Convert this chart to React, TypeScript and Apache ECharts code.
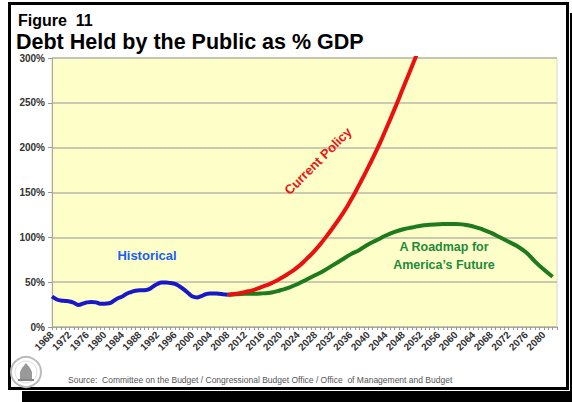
import React, { useEffect, useRef } from "react";
import * as echarts from "echarts";

const histYears = [1968,1969,1970,1971,1972,1973,1974,1975,1976,1977,1978,1979,1980,1981,1982,1983,1984,1985,1986,1987,1988,1989,1990,1991,1992,1993,1994,1995,1996,1997,1998,1999,2000,2001,2002,2003,2004,2005,2006,2007,2008];
const histValues = [34,31,29.5,29,28.5,27,24.5,26,27.5,28,27.5,26,26,26.5,29,32,34,37,39,40.5,41,41,42,45,48,49.5,49.5,49,48,45.5,42,38,34,33,34.5,36.5,37.5,37.5,37,36.5,36];

const policyYears = [2008,2010,2012,2014,2016,2018,2020,2022,2024,2026,2028,2030,2032,2034,2036,2038,2040,2042,2044,2046,2048,2050,2052];
const policyValues = [36,37,39,41.5,45,49,54,60,67,76,86,98,111,125,141,159,178,198,220,243,267,291,316];

const roadmapYears = [2008,2010,2012,2014,2016,2018,2020,2022,2024,2026,2028,2030,2032,2034,2036,2038,2040,2042,2044,2046,2048,2050,2052,2054,2056,2058,2060,2062,2064,2066,2068,2070,2072,2074,2076,2078,2080,2082];
const roadmapValues = [36,36.5,37,37,37.5,38.5,41,44,48,53,58,63,69,75,81,86,92,97,102,106,109,111,113,114,114.5,115,115,114,112,109,105,100,95,90,83,73,64,56];

const FONT = "'Liberation Sans', Arial, sans-serif";

function pairs(xs: number[], ys: number[]) {
  return xs.map((x, i) => [x, ys[i]]);
}

export default function App() {
  const ref = useRef<HTMLDivElement>(null);
  useEffect(() => {
    if (!ref.current) return;
    const chart = echarts.init(ref.current, null, { renderer: "svg" });
    chart.setOption({
      animation: false,
      textStyle: { fontFamily: FONT },
      title: [
        { text: "Figure  11", left: 13, top: 7, textStyle: { fontSize: 16, fontWeight: "bold", color: "#000", fontFamily: FONT } },
        { text: "Debt Held by the Public as % GDP", left: 11, top: 26, textStyle: { fontSize: 21.5, fontWeight: "bold", color: "#000", fontFamily: FONT } },
      ],
      grid: {
        left: 52, right: 15, top: 58, bottom: 75,
        show: true, backgroundColor: "#fefec8", borderColor: "#d8d8c0", borderWidth: 1,
      },
      xAxis: {
        type: "value", min: 1968, max: 2083, interval: 4,
        axisLine: { show: true, lineStyle: { color: "#a8a8a0", width: 1 } },
        axisTick: { show: true, length: 3, lineStyle: { color: "#999" } },
        minorTick: { show: true, splitNumber: 4, length: 3, lineStyle: { color: "#999" } },
        splitLine: { show: false },
        axisLabel: {
          rotate: 45, fontSize: 10, fontWeight: "bold", color: "#333", margin: 6,
          showMaxLabel: false, fontFamily: FONT,
          formatter: (v: number) => String(v),
        },
      },
      yAxis: {
        type: "value", min: 0, max: 300, interval: 50,
        axisLine: { show: true, lineStyle: { color: "#a8a8a0", width: 1 } },
        axisTick: { show: true, length: 4, lineStyle: { color: "#999" } },
        splitLine: { show: true, lineStyle: { color: "#b8b8a8", width: 1.5 } },
        axisLabel: { fontSize: 10, fontWeight: "bold", color: "#333", margin: 7, formatter: "{value}%", fontFamily: FONT },
      },
      series: [
        { type: "line", name: "A Roadmap for America's Future", data: pairs(roadmapYears, roadmapValues), smooth: true, showSymbol: false, lineStyle: { color: "#1d7a1d", width: 4 }, z: 3 },
        { type: "line", name: "Current Policy", data: pairs(policyYears, policyValues), smooth: 0.6, showSymbol: false, lineStyle: { color: "#ea1010", width: 4 }, z: 4 },
        { type: "line", name: "Historical", data: pairs(histYears, histValues), smooth: true, showSymbol: false, lineStyle: { color: "#1818c8", width: 4 }, z: 5 },
      ],
      graphic: [
        { type: "text", x: 147, y: 255, style: { text: "Historical", fill: "#1a5ef0", font: `bold 13px ${FONT}`, align: "center", verticalAlign: "middle" }, z: 100 },
        { type: "text", x: 318, y: 161, rotation: Math.PI / 4, style: { text: "Current Policy", fill: "#e81818", font: `bold 13px ${FONT}`, align: "center", verticalAlign: "middle" }, z: 100 },
        { type: "text", x: 444, y: 247, style: { text: "A Roadmap for", fill: "#1f8a3c", font: `bold 12.5px ${FONT}`, align: "center", verticalAlign: "middle" }, z: 100 },
        { type: "text", x: 444, y: 265, style: { text: "America\u2019s Future", fill: "#1f8a3c", font: `bold 12.5px ${FONT}`, align: "center", verticalAlign: "middle" }, z: 100 },
        { type: "text", x: 68, y: 380, style: { text: "Source:  Committee on the Budget / Congressional Budget Office / Office  of Management and Budget", fill: "#555", font: `8.5px ${FONT}`, align: "left", verticalAlign: "middle" }, z: 100 },
        { type: "circle", shape: { cx: 26, cy: 372, r: 15 }, style: { fill: "#fff", stroke: "#bbb", lineWidth: 2 }, z: 100 },
        { type: "circle", shape: { cx: 26, cy: 372, r: 11 }, style: { fill: "none", stroke: "#ddd", lineWidth: 1 }, z: 100 },
        { type: "polygon", shape: { points: [[20, 380], [20, 372], [22, 368], [26, 363], [30, 368], [32, 372], [32, 380]] }, style: { fill: "#999" }, z: 100 },
        { type: "rect", shape: { x: 18, y: 379, width: 16, height: 2 }, style: { fill: "#888" }, z: 100 },
      ],
    });
    return () => chart.dispose();
  }, []);

  return (
    <div style={{ position: "fixed", left: 0, top: 0, width: 572, height: 402, background: "#fff", overflow: "hidden" }}>
      <div style={{ position: "absolute", left: 22, top: 13, width: 560, height: 400, background: "#000" }} />
      <div style={{ position: "absolute", left: 6, top: 0, width: 564, height: 391, background: "#fff" }} />
      <div style={{ position: "absolute", left: 8, top: 2, width: 555, height: 382, border: "3px solid #000", background: "#fff" }} />
      <div ref={ref} style={{ position: "absolute", left: 0, top: 0, width: 572, height: 402 }} />
    </div>
  );
}
